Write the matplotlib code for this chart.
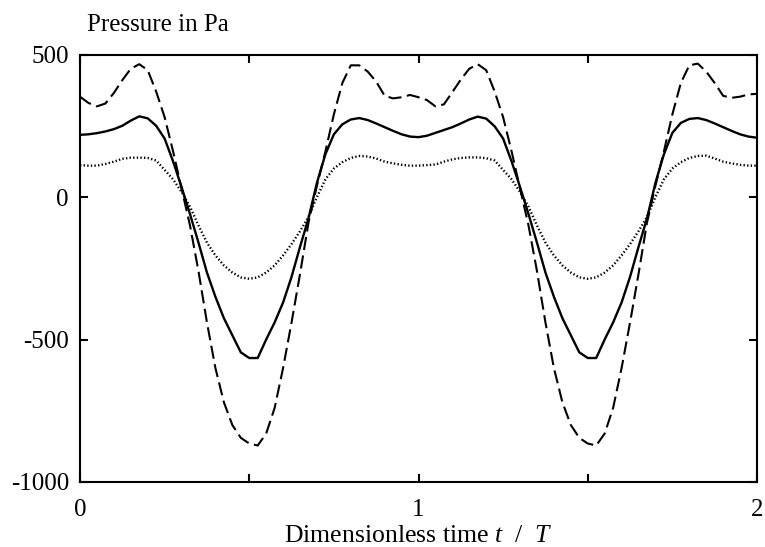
import matplotlib
matplotlib.use("Agg")
import matplotlib.pyplot as plt
import numpy as np

# Dimensionless time t/T (step 0.025 from 0 to 2)
t = np.round(np.arange(0, 2.0001, 0.025), 3)

solid = [218, 220, 224, 230, 238, 250, 268, 283, 276, 250,
         205, 125, 35, -60, -160, -265, -350, -425, -485, -545,
         -565, -565, -500, -440, -370, -280, -175, -75, 50, 150,
         220, 255, 272, 277, 270, 258, 245, 232, 220, 212,
         210, 215, 225, 235, 245, 258, 272, 282, 275, 248,
         205, 125, 35, -60, -160, -265, -350, -425, -485, -545,
         -565, -565, -500, -440, -370, -280, -175, -75, 50, 150,
         225, 260, 274, 277, 270, 258, 245, 232, 220, 212,
         208]

dashed = [352, 330, 318, 328, 365, 410, 450, 466, 445, 370,
          280, 160, 30, -100, -260, -440, -600, -720, -800, -845,
          -865, -872, -830, -740, -600, -440, -270, -90, 40, 160,
          290, 400, 462, 462, 440, 405, 355, 346, 350, 358,
          350, 340, 318, 325, 368, 412, 450, 466, 445, 370,
          280, 160, 30, -100, -260, -440, -600, -720, -800, -845,
          -865, -872, -830, -740, -600, -440, -270, -90, 40, 160,
          290, 400, 462, 468, 440, 400, 355, 348, 352, 360,
          362]

dotted = [112, 110, 110, 116, 124, 134, 138, 138, 137, 128,
          95, 62, 18, -34, -100, -160, -205, -240, -265, -282,
          -287, -282, -265, -240, -205, -165, -120, -70, 0, 62,
          100, 122, 137, 144, 142, 135, 124, 118, 113, 110,
          110, 112, 114, 124, 132, 137, 139, 139, 136, 128,
          95, 62, 18, -34, -100, -160, -205, -240, -265, -282,
          -287, -282, -265, -240, -205, -165, -120, -70, 0, 62,
          100, 122, 137, 144, 145, 135, 124, 118, 113, 110,
          110]

xticks = [0, 0.5, 1, 1.5, 2]
xticklabels = ["0", "", "1", "", "2"]
yticks = [-1000, -500, 0, 500]
yticklabels = ["-1000", "-500", "0", "500"]

plt.rcParams['font.family'] = ['Liberation Serif', 'DejaVu Serif']
plt.rcParams['mathtext.fontset'] = 'custom'
plt.rcParams['mathtext.rm'] = 'Liberation Serif'
plt.rcParams['mathtext.it'] = 'Liberation Serif:italic'
plt.rcParams['lines.scale_dashes'] = False

fig = plt.figure(figsize=(7.65, 5.47), dpi=100)
ax = fig.add_axes([80/765, 1-482/547, (757-80)/765, (482-54.5)/547])

ax.plot(t, dotted, color='black', lw=1.7, linestyle=(0, (1.0, 1.6)))
ax.plot(t, solid, color='black', lw=1.7, linestyle='-')
ax.plot(t, dashed, color='black', lw=1.5, linestyle=(0, (9.5, 4)))

ax.set_xlim(0, 2)
ax.set_ylim(-1000, 500)
ax.set_xticks(xticks)
ax.set_xticklabels(xticklabels)
ax.set_yticks(yticks)
ax.set_yticklabels(yticklabels)
ax.tick_params(direction='in', length=6, width=1.5, labelsize=18,
               top=True, right=True)
ax.tick_params(axis='x', pad=12)
ax.tick_params(axis='y', pad=8)
for s in ax.spines.values():
    s.set_linewidth(1.5)

ax.set_xlabel(r"Dimensionless time $t$  /  $T$", fontsize=18.5, labelpad=3)
fig.text(87/765, 1-25/547, "Pressure in Pa", fontsize=18, ha='left', va='center')

fig.savefig("out.png", dpi=100)
